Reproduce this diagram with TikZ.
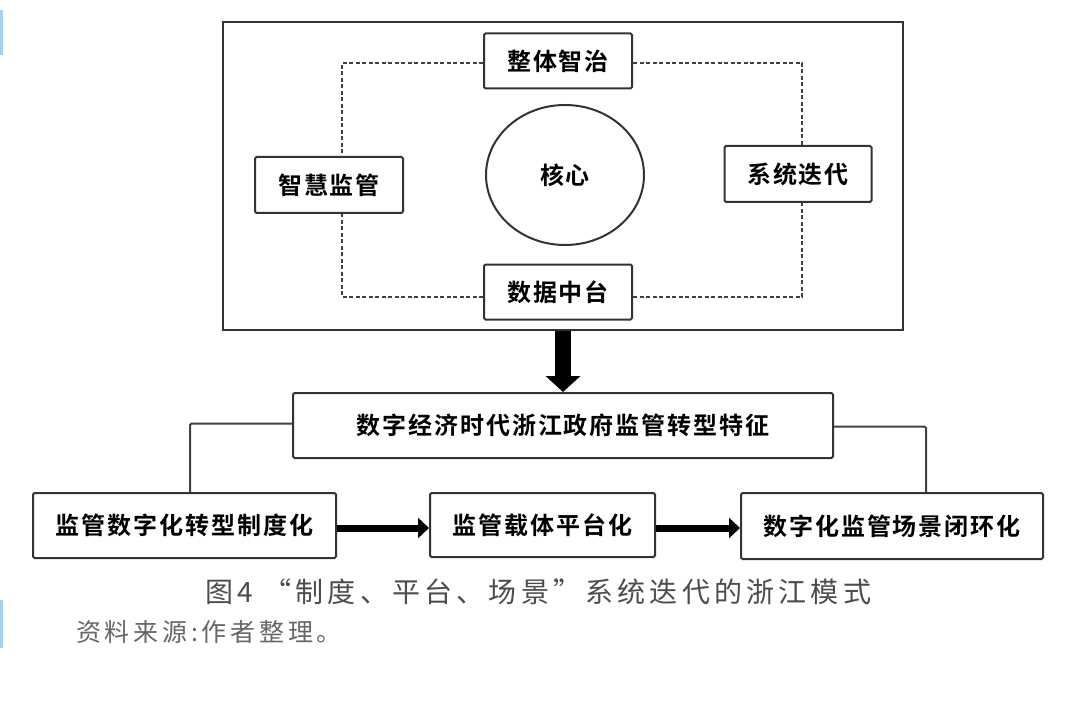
\documentclass[tikz,border=0pt]{standalone}
\usepackage{fontspec}
\usetikzlibrary{arrows.meta,shapes.geometric}
\newfontfamily\boxfont{Noto Sans CJK SC Bold}[LetterSpace=8]
\newfontfamily\capfont{Noto Sans CJK SC}[LetterSpace=15]
\definecolor{sidebar}{HTML}{A9D1EE}
\tikzset{
	box/.style={draw=black!80, line width=2pt, rounded corners=1.5pt, fill=white, inner sep=0pt, font=\boxfont\fontsize{24pt}{28pt}\selectfont},
	loopline/.style={draw=black!75, line width=1.7pt, dash pattern=on 4pt off 2.5pt},
	link/.style={draw=black!75, line width=2pt, rounded corners=1.5pt},
	fatarrow/.style={line width=7pt, -{Triangle[length=11pt,width=20pt]}},
}
\begin{document}
\begin{tikzpicture}[x=1pt, y=-1pt]
		\fill[white] (0,0) rectangle (1080,706);
		\useasboundingbox (0,0) rectangle (1080,706);
		\fill[sidebar] (0,10) rectangle (3,55);
		\fill[sidebar] (0,600) rectangle (3,648);
		
		\node[draw=black!80, line width=2pt, minimum width=680pt, minimum height=308pt, inner sep=0pt] (frame) at (563,176) {};
		
		\node[box, minimum width=148pt, minimum height=55pt] (zhengti) at (558,61) {整体智治};
		\node[box, minimum width=148pt, minimum height=56pt] (zhihui) at (329,185) {智慧监管};
		\node[box, minimum width=147pt, minimum height=56pt] (xitong) at (798,174) {系统迭代};
		\node[box, minimum width=148pt, minimum height=55pt] (shuju) at (558,292) {数据中台};
		\node[box, ellipse, minimum width=158pt, minimum height=140pt] (hexin) at (565,175) {核心};
		
		\draw[loopline] ([yshift=-2pt]zhengti.west) -| ([xshift=13pt]zhihui.north);
		\draw[loopline] ([yshift=-2pt]zhengti.east) -| ([xshift=4pt]xitong.north);
		\draw[loopline] ([yshift=-5pt]shuju.west) -| ([xshift=13pt]zhihui.south);
		\draw[loopline] ([yshift=-5pt]shuju.east) -| ([xshift=4pt]xitong.south);
		
		\node[box, minimum width=540pt, minimum height=65pt] (tezheng) at (563,425.5) {数字经济时代浙江政府监管转型特征};
		\draw[line width=16pt, -{Triangle[length=16pt,width=34pt]}] (frame.south) -- (tezheng.north);
		
		\node[box, minimum width=303pt, minimum height=65pt] (zhidu) at (184.5,525.5) {监管数字化转型制度化};
		\node[box, minimum width=225pt, minimum height=64pt] (pingtai) at (542.5,525) {监管载体平台化};
		\node[box, minimum width=302pt, minimum height=66pt] (changjing) at (892,526) {数字化监管场景闭环化};
		
		\draw[link] ([yshift=2pt]tezheng.west) -| ([xshift=5.5pt]zhidu.north);
		\draw[link] ([yshift=-1pt]tezheng.east) -| ([xshift=34pt]changjing.north);
		\draw[fatarrow] ([yshift=-2.5pt]zhidu.east) -- ([yshift=-3pt]pingtai.west);
		\draw[fatarrow] ([yshift=-3pt]pingtai.east) -- ([yshift=-2pt]changjing.west);
		
		\node[anchor=west, inner sep=0pt, text=black!70, font=\capfont\fontsize{28pt}{31pt}\selectfont] (tuming) at (205,592) {图4 “制度、平台、场景”系统迭代的浙江模式};
		\node[anchor=west, inner sep=0pt, text=black!60, font=\capfont\fontsize{25pt}{29pt}\selectfont] (laiyuan) at (76,632) {资料来源:作者整理。};
\end{tikzpicture}
\end{document}
